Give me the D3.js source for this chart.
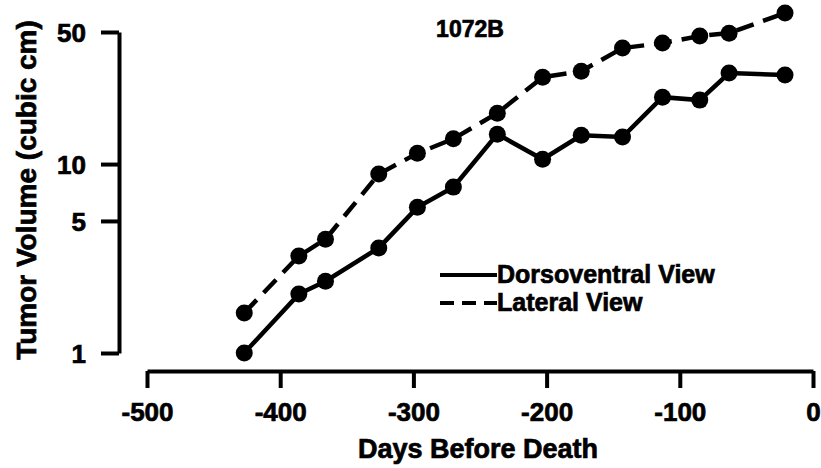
<!DOCTYPE html>
<html>
<head>
<meta charset="utf-8">
<script src="https://cdn.jsdelivr.net/npm/d3@7"></script>
<style>
  body { margin: 0; background: #fff; }
  svg text { font-family: "Liberation Sans", Arial, sans-serif; font-weight: bold; fill: #000; stroke: #000; stroke-width: 0.7px; }
</style>
</head>
<body>
<svg width="821" height="468"></svg>
<script>
// days before death for each measurement
var days = [-427, -386, -366, -326, -297, -270, -237, -203, -174, -143, -113, -85, -63, -21];
var dorsoventral = [1, 2.05, 2.4, 3.6, 5.9, 7.55, 14.4, 10.6, 14.2, 13.9, 22.6, 21.8, 30.3, 29.6];
var lateral = [1.63, 3.26, 4.0, 8.85, 11.4, 13.6, 18.6, 28.8, 31, 41.1, 43.7, 47.6, 49.3, 63];
var xTicks = [-500, -400, -300, -200, -100, 0];
var yTicks = [1, 5, 10, 50];
var seriesNames = ["Dorsoventral View", "Lateral View"];
var title = "1072B";

var svg = d3.select("svg");

var x = d3.scaleLinear().domain([-500, 0]).range([147, 813]);
var y = d3.scaleLog().domain([1, 50]).range([353, 32]);

// plain hyphen for negatives, like the original
var fmt = function(d) { return String(d); };

// y axis
var gy = svg.append("g")
  .attr("transform", "translate(119,0)")
  .call(d3.axisLeft(y).tickValues(yTicks).tickFormat(fmt)
    .tickSize(18).tickSizeOuter(0).tickPadding(15));
// x axis
var gx = svg.append("g")
  .attr("transform", "translate(0,371)")
  .call(d3.axisBottom(x).tickValues(xTicks).tickFormat(fmt)
    .tickSize(17).tickSizeOuter(0).tickPadding(14));

[gx, gy].forEach(function(g) {
  g.select(".domain").attr("stroke", "#000").attr("stroke-width", 4);
  g.selectAll(".tick line").attr("stroke", "#000").attr("stroke-width", 4);
  g.selectAll(".tick text").style("font-size", "26px").attr("fill", "#000");
});
gy.selectAll(".tick text").attr("dy", "0.36em");
gx.selectAll(".tick text").attr("dy", "0.72em");

// axis titles
svg.append("text")
  .attr("x", 478)
  .attr("y", 458)
  .attr("text-anchor", "middle")
  .style("font-size", "27px")
  .text("Days Before Death");

svg.append("text")
  .attr("transform", "translate(36,190) rotate(-90)")
  .attr("text-anchor", "middle")
  .style("font-size", "28px")
  .text("Tumor Volume (cubic cm)");

svg.append("text")
  .attr("x", 470)
  .attr("y", 37)
  .attr("text-anchor", "middle")
  .style("font-size", "23px")
  .text(title);

var line = d3.line()
  .x(function(d) { return x(d.day); })
  .y(function(d) { return y(d.value); });

function toPoints(values) {
  return days.map(function(d, i) { return { day: d, value: values[i] }; });
}

var series = [
  { name: seriesNames[0], data: toPoints(dorsoventral), dash: null },
  { name: seriesNames[1], data: toPoints(lateral), dash: "18,10" }
];

series.forEach(function(s) {
  svg.append("path")
    .datum(s.data)
    .attr("fill", "none")
    .attr("stroke", "#000")
    .attr("stroke-width", 4.5)
    .attr("stroke-dasharray", s.dash)
    .attr("d", line);
  svg.selectAll(null)
    .data(s.data)
    .enter().append("circle")
    .attr("cx", function(d) { return x(d.day); })
    .attr("cy", function(d) { return y(d.value); })
    .attr("r", 8.5)
    .attr("fill", "#000");
});

// legend
var legend = svg.append("g");
series.forEach(function(s, i) {
  var ly = 275 + i * 28;
  legend.append("line")
    .attr("x1", 440).attr("x2", 497)
    .attr("y1", ly).attr("y2", ly)
    .attr("stroke", "#000")
    .attr("stroke-width", 4)
    .attr("stroke-dasharray", s.dash ? "14,8" : null);
  legend.append("text")
    .attr("x", 497)
    .attr("y", ly + 8)
    .style("font-size", "25px")
    .text(s.name);
});
</script>
</body>
</html>
